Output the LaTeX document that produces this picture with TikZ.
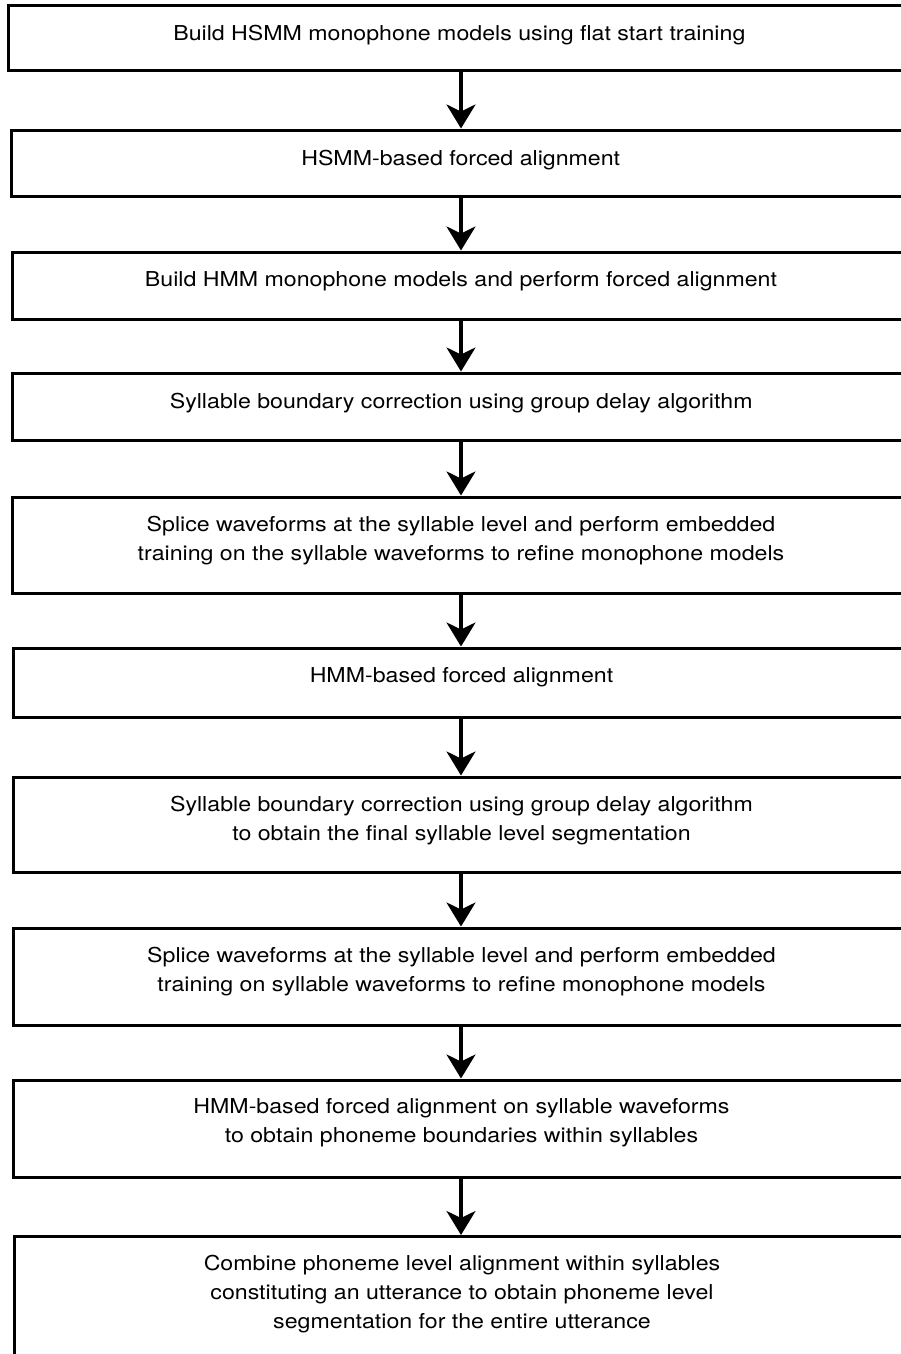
\documentclass[tikz,border=0pt]{standalone}
\usepackage{fontspec}
\setmainfont{TeX Gyre Heros}[FakeStretch=1.13]
\usetikzlibrary{arrows.meta,calc}
\begin{document}
\begin{tikzpicture}[x=1pt,y=-1pt,
  stepbox/.style={draw=black, line width=3pt, rectangle, inner sep=0pt},
  steptext/.style={anchor=north, align=center, inner sep=0pt,
    font=\fontsize{20.5}{29}\selectfont},
  flow/.style={line width=3.2pt, -{Stealth[length=24pt,width=29pt,inset=7pt]}}]
\useasboundingbox (0,0) rectangle (901,1354);
\clip (0,0) rectangle (901,1354);
\fill[white] (0,0) rectangle (901,1354);

% boxes: left edge, top, bottom (right edge runs past the page at 910)
\node[stepbox, minimum width=901.3pt, minimum height=65.7pt] (b1) at (459.35,38.15) {};
\node[stepbox, minimum width=898.5pt, minimum height=66pt] (b2) at (460.75,163) {};
\node[stepbox, minimum width=898pt, minimum height=67pt] (b3) at (461,285.5) {};
\node[stepbox, minimum width=897.5pt, minimum height=67pt] (b4) at (461.25,406.5) {};
\node[stepbox, minimum width=898pt, minimum height=96pt] (b5) at (461,545) {};
\node[stepbox, minimum width=897pt, minimum height=69pt] (b6) at (461.5,682.5) {};
\node[stepbox, minimum width=897pt, minimum height=95pt] (b7) at (461.5,824.5) {};
\node[stepbox, minimum width=897pt, minimum height=97pt] (b8) at (461.5,976.5) {};
\node[stepbox, minimum width=897pt, minimum height=97pt] (b9) at (461.5,1128.5) {};
\node[stepbox, minimum width=896pt, minimum height=140pt] (b10) at (462,1306.5) {};

% texts
\node[steptext] (t1) at ($(b1.north)+(0,21)$) {Build HSMM monophone models using flat start training};
\node[steptext] (t2) at ($(b2.north)+(0,21)$) {HSMM-based forced alignment};
\node[steptext] (t3) at ($(b3.north)+(0,21)$) {Build HMM monophone models and perform forced alignment};
\node[steptext] (t4) at ($(b4.north)+(0,21)$) {Syllable boundary correction using group delay algorithm};
\node[steptext] (t5) at ($(b5.north)+(0,20)$) {Splice waveforms at the syllable level and perform embedded\\training on the syllable waveforms to refine monophone models};
\node[steptext] (t6) at ($(b6.north)+(0,21)$) {HMM-based forced alignment};
\node[steptext] (t7) at ($(b7.north)+(0,20)$) {Syllable boundary correction using group delay algorithm\\to obtain the final syllable level segmentation};
\node[steptext] (t8) at ($(b8.north)+(0,20)$) {Splice waveforms at the syllable level and perform embedded\\training on syllable waveforms to refine monophone models};
\node[steptext] (t9) at ($(b9.north)+(0,20)$) {HMM-based forced alignment on syllable waveforms\\to obtain phoneme boundaries within syllables};
\node[steptext] (t10) at ($(b10.north)+(0,20)$) {Combine phoneme level alignment within syllables\\constituting an utterance to obtain phoneme level\\segmentation for the entire utterance};

% connectors
\coordinate (ax) at (461,0);
\foreach \a/\b in {b1/b2,b2/b3,b3/b4,b4/b5,b5/b6,b6/b7,b7/b8,b8/b9,b9/b10}
  \draw[flow] (\a.south -| ax) -- (\b.north -| ax);
\end{tikzpicture}
\end{document}
